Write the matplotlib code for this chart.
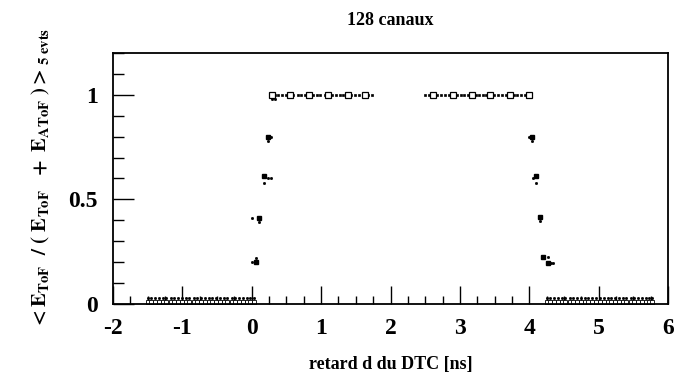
import matplotlib
matplotlib.use("Agg")
import matplotlib.pyplot as plt
from matplotlib.ticker import MultipleLocator

plt.rcParams['font.family'] = ['Liberation Serif', 'DejaVu Serif']
plt.rcParams['font.weight'] = 'bold'
plt.rcParams['mathtext.fontset'] = 'stix'
plt.rcParams['axes.unicode_minus'] = False

# plateau points (y = 1)
top1_main_x = [0.29, 0.55, 0.83, 1.10, 1.38, 1.63]
top1_small_x = [0.27, 0.33, 0.38, 0.44, 0.49, 0.60, 0.66, 0.71, 0.77, 0.88, 0.94, 0.99,
                1.05, 1.16, 1.21, 1.27, 1.32, 1.43, 1.49, 1.54, 1.60, 1.68, 1.73]
top2_main_x = [2.61, 2.90, 3.17, 3.43, 3.72, 3.99]
top2_small_x = [2.50, 2.55, 2.67, 2.73, 2.79, 2.84, 2.96, 3.01, 3.06, 3.12, 3.23, 3.28,
                3.33, 3.38, 3.49, 3.55, 3.61, 3.66, 3.78, 3.83, 3.88, 3.94]

# edges
rise_x = [0.06, 0.11, 0.17, 0.23]
rise_y = [0.20, 0.41, 0.61, 0.80]
rise_dot_x = [0.00, 0.04, 0.06, 0.00, 0.11, 0.23, 0.27, 0.17, 0.28, 0.23, 0.29, 0.34]
rise_dot_y = [0.20, 0.20, 0.22, 0.41, 0.39, 0.60, 0.60, 0.58, 0.80, 0.78, 0.98, 0.98]
fall_x = [4.04, 4.10, 4.16, 4.20, 4.27]
fall_y = [0.80, 0.61, 0.415, 0.225, 0.197]
fall_dot_x = [3.99, 4.04, 4.05, 4.10, 4.16, 4.27, 4.32, 4.34]
fall_dot_y = [0.80, 0.78, 0.60, 0.58, 0.395, 0.225, 0.197, 0.197]

# flat zero regions
low1_x = [-1.50, -1.45, -1.39, -1.34, -1.28, -1.23, -1.17, -1.12, -1.06, -1.01, -0.95,
          -0.90, -0.84, -0.79, -0.73, -0.68, -0.62, -0.57, -0.51, -0.46, -0.40, -0.35,
          -0.29, -0.24, -0.18, -0.13, -0.07, -0.02, 0.03]
low2_x = [4.25, 4.30, 4.36, 4.41, 4.47, 4.52, 4.58, 4.63, 4.69, 4.74, 4.80, 4.85, 4.91,
          4.96, 5.02, 5.07, 5.13, 5.18, 5.24, 5.29, 5.35, 5.40, 5.46, 5.51, 5.57, 5.62,
          5.68, 5.73, 5.77]
low_y = 0.008
low_err_y = 0.028

fig = plt.figure(figsize=(6.76, 3.78), dpi=100)
ax = fig.add_axes([0.1672, 0.1958, 0.8210, 0.6640])

k = dict(color='black', linestyle='none')
for xs in (top1_small_x, top2_small_x):
    ax.plot(xs, [1.0] * len(xs), marker='s', markersize=2.0, markeredgewidth=0.5, **k)
for xs in (top1_main_x, top2_main_x):
    ax.plot(xs, [1.0] * len(xs), marker='s', markersize=4.0, markerfacecolor='white',
            markeredgewidth=0.9, **k)

ax.plot(rise_x, rise_y, marker='s', markersize=2.8, markerfacecolor='black', **k)
ax.plot(fall_x, fall_y, marker='s', markersize=2.8, markerfacecolor='black', **k)
ax.plot(rise_dot_x, rise_dot_y, marker='s', markersize=1.0, **k)
ax.plot(fall_dot_x, fall_dot_y, marker='s', markersize=1.0, **k)

for xs in (low1_x, low2_x):
    ax.plot(xs, [low_err_y] * len(xs), marker='s', markersize=1.0, **k)
    ax.plot(xs, [low_y] * len(xs), marker='s', markersize=2.4, markerfacecolor='white',
            markeredgewidth=0.6, **k)

ax.set_xlim(-2, 6)
ax.set_ylim(0, 1.2)
ax.xaxis.set_major_locator(MultipleLocator(1))
ax.xaxis.set_minor_locator(MultipleLocator(0.25))
ax.yaxis.set_major_locator(MultipleLocator(0.5))
ax.yaxis.set_minor_locator(MultipleLocator(0.1))
ax.yaxis.set_major_formatter(plt.FuncFormatter(lambda v, p: '%g' % v))
ax.tick_params(which='major', direction='in', length=13, width=1, labelsize=17)
ax.tick_params(which='minor', direction='in', length=6, width=1)
ax.tick_params(axis='y', which='major', length=15, pad=11)
ax.tick_params(axis='y', which='minor', length=8)
ax.tick_params(axis='x', pad=10)
for s in ax.spines.values():
    s.set_linewidth(1.3)

ax.set_title('128 canaux', fontsize=13, fontweight='bold', pad=20)
ax.set_xlabel('retard d du DTC [ns]', fontsize=13, fontweight='bold', labelpad=12)
ax.set_ylabel(r'$\mathbf{<E_{ToF}\ \ /\ (\ E_{ToF}\ \ +\ E_{AToF}\ )>_{5\ evts}}$',
              fontsize=15, labelpad=12)

fig.savefig('out.png', dpi=100)
